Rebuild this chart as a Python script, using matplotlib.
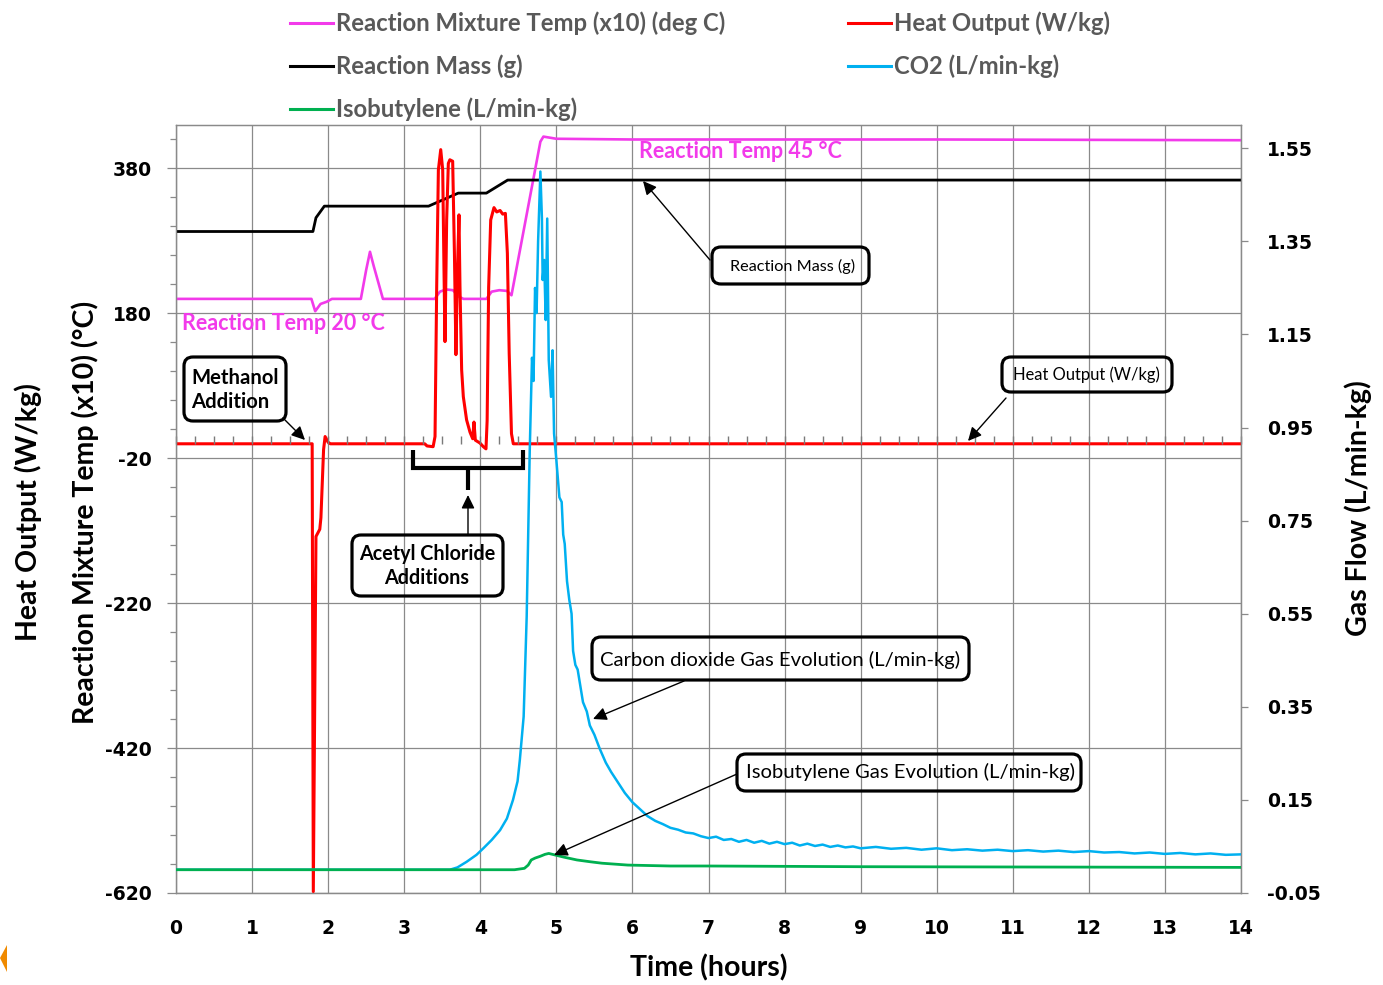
import numpy as np
import matplotlib
matplotlib.use("Agg")
import matplotlib.pyplot as plt
from matplotlib.ticker import FixedLocator, FormatStrFormatter
from matplotlib.patches import FancyBboxPatch, PathPatch, Polygon
from matplotlib.path import Path
from matplotlib.transforms import Affine2D

plt.rcParams["axes.unicode_minus"] = False

# ---------------- data ----------------
temp_t = [0, 1.78, 1.83, 1.90, 1.98, 2.05, 2.43, 2.50, 2.55, 2.60, 2.72, 3.40, 3.47,
          3.55, 3.64, 3.72, 3.78, 4.08, 4.15, 4.25, 4.35, 4.41, 4.79, 4.83, 5.0, 6.0, 10.0, 14.0]
temp_v = [200, 200, 183, 193, 196, 200, 200, 240, 265, 245, 200, 200, 210,
          213, 212, 203, 200, 200, 210, 212, 211, 205, 417, 424, 421, 420, 420, 419]

mass_t = [0, 1.80, 1.84, 1.95, 3.32, 3.71, 4.08, 4.36, 14]
mass_v = [293, 293, 312, 328, 328, 346, 346, 364, 364]

heat_t = [0, 1.79, 1.805, 1.84, 1.87, 1.89, 1.905, 1.94, 1.96, 2.00, 2.03,
          3.27, 3.30, 3.38, 3.405, 3.427, 3.449, 3.48, 3.506, 3.523, 3.536, 3.558, 3.58,
          3.60, 3.637, 3.66, 3.68, 3.70, 3.72, 3.733, 3.755, 3.777, 3.82, 3.865, 3.90,
          3.917, 3.935, 3.996, 4.04, 4.075, 4.09, 4.11, 4.137, 4.18, 4.216, 4.26, 4.295,
          4.33, 4.356, 4.38, 4.41, 4.434, 14.0]
heat_v = [0, 0, -618, -128, -122, -118, -102, -8, 10, 2, 0,
          0, -3, -4, 10, 217, 378, 406, 378, 240, 141, 309, 387,
          392, 390, 263, 123, 240, 316, 217, 102, 65, 33, 16, 7,
          30, 5, 1, -4, -7, 32, 216, 309, 326, 320, 322, 317,
          318, 263, 125, 14, 0, 0]

co2_t = [0, 3.60, 3.70, 3.82, 3.95, 4.04, 4.15, 4.26, 4.35, 4.43, 4.49, 4.52, 4.57,
         4.61, 4.65, 4.68, 4.70, 4.72, 4.74, 4.76, 4.79, 4.81, 4.82, 4.84, 4.86, 4.88,
         4.90, 4.93, 4.95, 4.97, 5.00, 5.04, 5.07, 5.09, 5.11, 5.14, 5.17, 5.20, 5.22,
         5.25, 5.28, 5.31, 5.35, 5.40, 5.44, 5.50, 5.57, 5.65, 5.72, 5.80, 5.90, 6.00,
         6.10, 6.20, 6.30, 6.40, 6.50, 6.60, 6.70, 6.80, 6.90, 7.00, 7.10, 7.20, 7.30,
         7.40, 7.50, 7.60, 7.70, 7.80, 7.90, 8.00, 8.10, 8.20, 8.30, 8.40, 8.50, 8.60,
         8.70, 8.80, 8.90, 9.00, 9.20, 9.40, 9.60, 9.80, 10.0, 10.2, 10.4, 10.6, 10.8,
         11.0, 11.2, 11.4, 11.6, 11.8, 12.0, 12.2, 12.4, 12.6, 12.8, 13.0, 13.2, 13.4,
         13.6, 13.8, 14.0]
co2_v = [0.0, 0.0, 0.005, 0.017, 0.032, 0.046, 0.064, 0.085, 0.110, 0.150, 0.190, 0.236, 0.329,
         0.544, 0.900, 1.100, 1.050, 1.250, 1.196, 1.350, 1.500, 1.400, 1.267, 1.310, 1.181, 1.399,
         1.095, 1.016, 1.116, 0.937, 0.880, 0.800, 0.790, 0.720, 0.700, 0.620, 0.580, 0.550, 0.470,
         0.440, 0.430, 0.400, 0.360, 0.340, 0.310, 0.290, 0.260, 0.230, 0.210, 0.190, 0.165, 0.145,
         0.130, 0.115, 0.105, 0.098, 0.090, 0.086, 0.080, 0.078, 0.072, 0.068, 0.071, 0.064, 0.066,
         0.060, 0.064, 0.058, 0.062, 0.056, 0.060, 0.055, 0.058, 0.052, 0.056, 0.051, 0.054, 0.049,
         0.052, 0.048, 0.050, 0.046, 0.049, 0.045, 0.047, 0.043, 0.046, 0.042, 0.044, 0.041, 0.043,
         0.040, 0.042, 0.039, 0.041, 0.038, 0.040, 0.037, 0.038, 0.035, 0.037, 0.034, 0.036, 0.033,
         0.035, 0.032, 0.033]

iso_t = [0, 4.45, 4.58, 4.63, 4.67, 4.72, 4.79, 4.85, 4.90, 4.95, 5.0, 5.1, 5.27, 5.45,
         5.6, 5.94, 6.5, 7.0, 9.0, 14.0]
iso_v = [0, 0, 0.003, 0.010, 0.021, 0.025, 0.029, 0.033, 0.035, 0.033, 0.031, 0.027, 0.021, 0.017,
         0.014, 0.010, 0.008, 0.008, 0.0065, 0.005]

x_ticks = list(range(0, 15))
left_ticks = [-620, -420, -220, -20, 180, 380]
right_ticks = [-0.05, 0.15, 0.35, 0.55, 0.75, 0.95, 1.15, 1.35, 1.55]

labels = {
    "temp": "Reaction Mixture Temp (x10) (deg C)",
    "mass": "Reaction Mass (g)",
    "iso": "Isobutylene (L/min-kg)",
    "heat": "Heat Output (W/kg)",
    "co2": "CO2 (L/min-kg)",
}

# ---------------- styles ----------------
MAG = "#F23AEA"
RED = "#FF0000"
BLUE = "#00B0F0"
GREEN = "#00B050"
GRID = "#8A8A8A"
SANS = ["Lato", "DejaVu Sans"]
NUMF = ["DejaVu Sans"]

W, H, DPI = 1383, 985, 100
fig = plt.figure(figsize=(W / DPI, H / DPI), dpi=DPI)
L, R, B, T = 176, 1241, 893, 125
ax = fig.add_axes([L / W, 1 - B / H, (R - L) / W, (B - T) / H])
ax2 = ax.twinx()
# reference-pixel transform (origin top-left)
P = Affine2D().scale(1 / W, -1 / H).translate(0, 1) + fig.transFigure

ax.set_xlim(0, 14)
ax.set_ylim(-620, 440)
ax2.set_ylim(-0.05, 1.60)

ax.set_xticks(x_ticks)
ax.set_yticks(left_ticks)
ax.yaxis.set_minor_locator(FixedLocator(np.arange(-620, 441, 40)))
ax2.set_yticks(right_ticks)
ax2.yaxis.set_major_formatter(FormatStrFormatter("%.2f"))

ax.grid(True, which="major", color=GRID, lw=0.9)
ax.set_axisbelow(True)
for a in (ax, ax2):
    for s in a.spines.values():
        s.set_color(GRID)
        s.set_linewidth(0.9)

ax.tick_params(axis="x", which="both", length=0, pad=19, labelsize=13.5)
ax.tick_params(axis="y", which="major", direction="out", length=6.7, width=0.9,
               color=GRID, pad=10.5, labelsize=13.5)
ax.tick_params(axis="y", which="minor", direction="out", length=4.3, width=0.9, color=GRID)
ax2.tick_params(axis="y", which="major", direction="out", length=5, width=0.9,
                color=GRID, pad=13.5, labelsize=13.5)
for lab in ax.get_xticklabels() + ax.get_yticklabels() + ax2.get_yticklabels():
    lab.set_fontweight("bold")
    lab.set_family(NUMF)

# minor tick marks along the zero line of the left axis (horizontal axis crossing)
frac = (0 - ax.get_ylim()[0]) / (ax.get_ylim()[1] - ax.get_ylim()[0])
sec = ax.secondary_xaxis(frac)
sec.xaxis.set_ticks_position("bottom")
sec.set_xticks(np.arange(0, 14.01, 0.25))
sec.tick_params(axis="x", which="both", direction="in", length=6, width=1.0, color="#7A7A7A",
                labelbottom=False, labeltop=False)
for s in sec.spines.values():
    s.set_visible(False)
sec.set_zorder(5)

# ---------------- series ----------------
l_temp, = ax.plot(temp_t, temp_v, color=MAG, lw=1.9, label=labels["temp"], zorder=3)
l_mass, = ax.plot(mass_t, mass_v, color="black", lw=2.0, label=labels["mass"], zorder=3)
l_heat, = ax.plot(heat_t, heat_v, color=RED, lw=2.2, label=labels["heat"], zorder=4)
l_co2, = ax2.plot(co2_t, co2_v, color=BLUE, lw=1.8, label=labels["co2"], zorder=3)
l_iso, = ax2.plot(iso_t, iso_v, color=GREEN, lw=2.0, label=labels["iso"], zorder=3)

# ---------------- legends ----------------
leg_kw = dict(frameon=False, loc="upper left", borderpad=0, borderaxespad=0,
              handlelength=1.8, handletextpad=0.12, labelspacing=0.82,
              prop=dict(family=SANS, weight="bold", size=17.2), labelcolor="#595959")
leg1 = fig.legend([l_temp, l_mass, l_iso], [labels["temp"], labels["mass"], labels["iso"]],
                  bbox_to_anchor=(290 / W, 1 - 11.5 / H), **leg_kw)
leg2 = fig.legend([l_heat, l_co2], [labels["heat"], labels["co2"]],
                  bbox_to_anchor=(848 / W, 1 - 11.5 / H), **leg_kw)
for lg in (leg1, leg2):
    for h in lg.legend_handles:
        h.set_linewidth(2.2)

# ---------------- axis titles ----------------
tkw = dict(ha="center", va="center", fontsize=20.5, fontweight="bold", family=SANS)
fig.text(28 / W, 1 - 512 / H, "Heat Output (W/kg)", rotation=90, **tkw)
fig.text(85 / W, 1 - 512 / H, "Reaction Mixture Temp (x10) (°C)", rotation=90, **tkw)
fig.text(1358 / W, 1 - 508 / H, "Gas Flow (L/min-kg)", rotation=90, **tkw)
fig.text(709 / W, 1 - 968 / H, "Time (hours)", **tkw)

# ---------------- annotations ----------------
mkw = dict(transform=P, ha="left", va="center", color=MAG, fontsize=15.5,
           fontweight="bold", family=SANS, zorder=6)
ax2.text(639, 152, "Reaction Temp 45 °C", **mkw)
ax2.text(182, 323, "Reaction Temp 20 °C", **mkw)


def rbox(x0, y0, x1, y1):
    p = FancyBboxPatch((x0, y0), x1 - x0, y1 - y0,
                       boxstyle="round,pad=0,rounding_size=9",
                       transform=P, fc="none", ec="black", lw=2.3, zorder=6)
    ax2.add_patch(p)


def arrow(start, tip):
    ax2.annotate("", xy=tip, xycoords=P, xytext=start, textcoords=P,
                 arrowprops=dict(arrowstyle="-|>,head_length=0.45,head_width=0.22",
                                 color="black", lw=1.0, mutation_scale=18,
                                 shrinkA=0, shrinkB=0), zorder=6)


def btext(x, y, s, size, weight="normal", ha="center", ma="center", ls=1.15):
    ax2.text(x, y, s, transform=P, ha=ha, va="center", fontsize=size,
             fontweight=weight, family=SANS, multialignment=ma,
             linespacing=ls, zorder=7)


# Methanol Addition
rbox(184, 357, 286, 421)
btext(191, 390, "Methanol\nAddition", 14.6, "bold", ha="left", ma="left", ls=1.28)
arrow((283, 418), (305, 440))

# Reaction Mass
rbox(712, 247, 869, 284)
btext(793, 266, "Reaction Mass (g)", 11.7)
arrow((710, 260), (643, 181))

# Heat Output
rbox(1002, 357, 1172, 392)
btext(1086, 375, "Heat Output (W/kg)", 11.9)
arrow((1006, 398), (968, 441))

# Acetyl chloride bracket + box
bracket = Path([(413, 450), (413, 468), (523, 468), (523, 450), (468, 468), (468, 490)],
               [Path.MOVETO, Path.LINETO, Path.LINETO, Path.LINETO, Path.MOVETO, Path.LINETO])
ax2.add_patch(PathPatch(bracket, transform=P, fill=False, ec="black", lw=3.0,
                        joinstyle="miter", capstyle="butt", zorder=6))
rbox(352, 535, 503, 596)
btext(427, 566, "Acetyl Chloride\nAdditions", 14.2, "bold", ls=1.28)
arrow((468, 535), (468, 495))

# CO2
rbox(592, 637, 969, 680)
btext(780, 660, "Carbon dioxide Gas Evolution (L/min-kg)", 14.6)
arrow((684, 681), (593, 719))

# Isobutylene
rbox(737, 754, 1081, 791)
btext(910, 772, "Isobutylene Gas Evolution (L/min-kg)", 14.6)
arrow((737, 774), (554, 855))

# small orange marker at the lower-left edge of the picture
fig.patches.append(Polygon([(0, 958), (7, 945), (7, 972)], closed=True, transform=P,
                           fc="#F08A00", ec="none"))

fig.savefig("out.png", dpi=DPI)
